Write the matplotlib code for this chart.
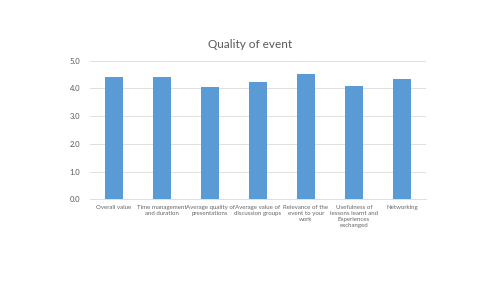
import numpy as np
import matplotlib.pyplot as plt

plt.rcParams['font.family'] = ['Lato', 'DejaVu Sans']

categories = ["Overall value", "Time management\nand duration", "Average quality of\npresentations",
              "Average value of\ndiscussion groups", "Relevance of the\nevent to your\nwork",
              "Usefulness of\nlessons learnt and\nExperiences\nexchanged", "Networking"]
values = [4.40, 4.41, 4.05, 4.23, 4.51, 4.10, 4.34]
yticks = [0.0, 1.0, 2.0, 3.0, 4.0, 5.0]

fig = plt.figure(figsize=(5, 2.81), dpi=100)
ax = fig.add_axes([0.18, 0.2907, 0.672, 0.4933])

x = np.arange(len(categories))
ax.bar(x, values, width=0.375, color="#5B9BD5", zorder=3)

ax.set_xlim(-0.5, len(categories) - 0.5)
ax.set_ylim(0, 5)
ax.set_yticks(yticks)
ax.set_yticklabels(["%.1f" % v for v in yticks], fontsize=5.5, color="#595959")
ax.set_xticks(x)
ax.set_xticklabels(categories, fontsize=4.4, color="#666666", linespacing=1.25, va="top")
ax.tick_params(length=0, pad=4)
ax.tick_params(axis="y", pad=7)
ax.grid(axis="y", color="#D9D9D9", linewidth=0.6, zorder=0)
for s in ["top", "right", "left"]:
    ax.spines[s].set_visible(False)
ax.spines["bottom"].set_color("#D9D9D9")
ax.spines["bottom"].set_linewidth(0.6)

fig.text(0.501, 0.84, "Quality of event", ha="center", va="center", fontsize=8.5, color="#595959")

fig.savefig("out.png", dpi=100)
